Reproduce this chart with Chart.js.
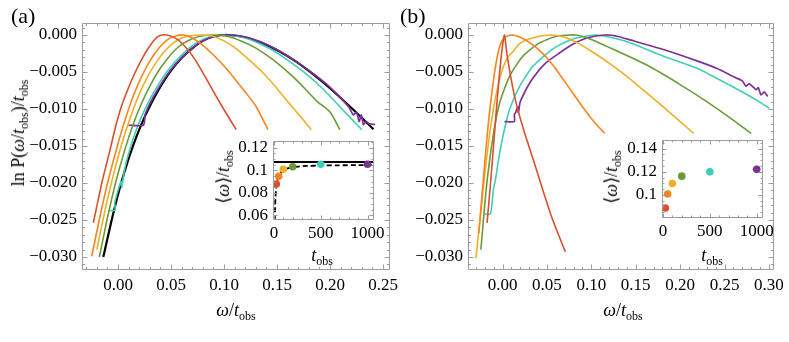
<!DOCTYPE html>
<html><head><meta charset="utf-8">
<script src="https://cdn.jsdelivr.net/npm/chart.js@4.4.1/dist/chart.umd.min.js"></script>
<style>
html,body{margin:0;padding:0;background:#fff;}
#wrap{position:relative;width:789px;height:342px;overflow:hidden;font-family:"Liberation Serif","Times New Roman",serif;color:#000;}
canvas{position:absolute;}
.lbl{position:absolute;white-space:nowrap;font-size:18px;line-height:1;transform:translate(-50%,-50%);}
.rot{transform:translate(-50%,-50%) rotate(-90deg);}
.lbl i{font-style:italic;}
.lbl sub{font-size:12px;vertical-align:baseline;position:relative;top:4px;}
.pl{position:absolute;font-size:22px;line-height:1;}
</style></head><body><div id="wrap">
<canvas id="cA"></canvas><canvas id="cB"></canvas><canvas id="cIA"></canvas><canvas id="cIB"></canvas>
<div class="pl" style="left:11px;top:5px">(a)</div>
<div class="pl" style="left:400px;top:5px">(b)</div>
<div class="lbl rot" style="left:18px;top:133px">ln P(<i>ω</i>/<i>t</i><sub>obs</sub>)/<i>t</i><sub>obs</sub></div>
<div class="lbl" style="left:236px;top:310px"><i>ω</i>/<i>t</i><sub>obs</sub></div>
<div class="lbl" style="left:623px;top:310px"><i>ω</i>/<i>t</i><sub>obs</sub></div>
<div class="lbl rot" style="left:223px;top:177px">⟨<i>ω</i>⟩/<i>t</i><sub>obs</sub></div>
<div class="lbl" style="left:322px;top:255px"><i>t</i><sub>obs</sub></div>
<div class="lbl rot" style="left:611px;top:177px">⟨<i>ω</i>⟩/<i>t</i><sub>obs</sub></div>
<div class="lbl" style="left:712px;top:255px"><i>t</i><sub>obs</sub></div>
</div>
<script>
// ---------- tick labels ----------
const aXTicks=[0,0.05,0.10,0.15,0.20,0.25];
const aXTickLabels=["0.00","0.05","0.10","0.15","0.20","0.25"];
const bXTicks=[0,0.05,0.10,0.15,0.20,0.25,0.30];
const bXTickLabels=["0.00","0.05","0.10","0.15","0.20","0.25","0.30"];
const mainYTicks=[0,-0.005,-0.010,-0.015,-0.020,-0.025,-0.030];
const mainYTickLabels=["0.000","\u22120.005","\u22120.010","\u22120.015","\u22120.020","\u22120.025","\u22120.030"];
const insetXTicks=[0,500,1000];
const insetXTickLabels=["0","500","1000"];
const insetAYTicks=[0.06,0.08,0.10,0.12];
const insetAYTickLabels=["0.06","0.08","0.1","0.12"];
const insetBYTicks=[0.10,0.12,0.14];
const insetBYTickLabels=["0.1","0.12","0.14"];

// ---------- panel (a) curves ----------
const aRedX=[-0.0233,-0.0150,-0.0080,-0.0020,0.0040,0.0100,0.0160,0.0220,0.0280,0.0340,0.0390,0.0460,0.0550,0.0640,0.0730,0.0820,0.0910,0.1000,0.1115];
const aRedY=[-0.0254,-0.0198,-0.0158,-0.0122,-0.0093,-0.0071,-0.0051,-0.0034,-0.0019,-0.0007,-0.0001,0.0000,-0.0005,-0.0017,-0.0034,-0.0056,-0.0079,-0.0101,-0.0128];
const aOrangeX=[-0.0248,-0.0170,-0.0090,-0.0010,0.0070,0.0150,0.0230,0.0310,0.0390,0.0470,0.0550,0.0620,0.0700,0.0800,0.0900,0.1000,0.1100,0.1200,0.1300,0.1415];
const aOrangeY=[-0.0299,-0.0245,-0.0195,-0.0152,-0.0113,-0.0080,-0.0054,-0.0033,-0.0017,-0.0006,-0.0001,0.0000,-0.0004,-0.0014,-0.0027,-0.0042,-0.0059,-0.0077,-0.0096,-0.0128];
const aYellowX=[-0.0200,-0.0120,-0.0040,0.0040,0.0120,0.0200,0.0280,0.0360,0.0440,0.0520,0.0600,0.0680,0.0780,0.0880,0.1000,0.1120,0.1240,0.1360,0.1480,0.1600,0.1720,0.1824];
const aYellowY=[-0.0290,-0.0235,-0.0187,-0.0145,-0.0110,-0.0080,-0.0056,-0.0037,-0.0022,-0.0011,-0.0004,-0.0001,0.0000,-0.0001,-0.0008,-0.0019,-0.0034,-0.0050,-0.0069,-0.0090,-0.0110,-0.0128];
const aGreenX=[-0.0176,-0.0100,-0.0020,0.0060,0.0140,0.0220,0.0300,0.0380,0.0460,0.0540,0.0620,0.0700,0.0800,0.0920,0.1040,0.1160,0.1280,0.1400,0.1520,0.1640,0.1760,0.1880,0.2000,0.2094];
const aGreenY=[-0.0300,-0.0247,-0.0198,-0.0157,-0.0122,-0.0093,-0.0069,-0.0049,-0.0033,-0.0020,-0.0011,-0.0005,-0.0001,0.0000,-0.0002,-0.0008,-0.0016,-0.0027,-0.0040,-0.0055,-0.0072,-0.0090,-0.0104,-0.0128];
const aTealX=[-0.0090,-0.0030,-0.0030,0.0010,0.0030,0.0035,0.0060,0.0100,0.0160,0.0220,0.0300,0.0380,0.0460,0.0560,0.0660,0.0760,0.0860,0.1000,0.1140,0.1280,0.1440,0.1600,0.1760,0.1920,0.2060,0.2180,0.2300];
const aTealY=[-0.0237,-0.0237,-0.0226,-0.0205,-0.0198,-0.0206,-0.0183,-0.0160,-0.0133,-0.0111,-0.0087,-0.0067,-0.0050,-0.0033,-0.0019,-0.0009,-0.0003,0.0000,-0.0002,-0.0008,-0.0019,-0.0034,-0.0051,-0.0071,-0.0092,-0.0110,-0.0128];
const aPurpleX=[0.0097,0.0239,0.0255,0.0286,0.0340,0.0420,0.0500,0.0600,0.0700,0.0800,0.0900,0.1030,0.1180,0.1340,0.1500,0.1660,0.1820,0.1980,0.2100,0.2180,0.2220,0.2250,0.2275,0.2295,0.2315,0.2340,0.2370,0.2425];
const aPurpleY=[-0.0122,-0.0122,-0.0108,-0.0097,-0.0082,-0.0063,-0.0047,-0.0031,-0.0018,-0.0008,-0.0002,0.0000,-0.0002,-0.0009,-0.0020,-0.0034,-0.0050,-0.0068,-0.0085,-0.0098,-0.0108,-0.0104,-0.0117,-0.0108,-0.0121,-0.0117,-0.0120,-0.0121];
const aBlackX=[-0.0139,-0.0060,0.0020,0.0100,0.0180,0.0260,0.0340,0.0420,0.0500,0.0600,0.0700,0.0800,0.0900,0.1040,0.1200,0.1360,0.1520,0.1680,0.1840,0.2000,0.2160,0.2300,0.2410];
const aBlackY=[-0.0300,-0.0250,-0.0205,-0.0167,-0.0135,-0.0108,-0.0085,-0.0065,-0.0048,-0.0031,-0.0018,-0.0008,-0.0002,0.0000,-0.0003,-0.0011,-0.0022,-0.0036,-0.0053,-0.0072,-0.0093,-0.0112,-0.01275];

// ---------- panel (b) curves ----------
const bRedX=[-0.0174,-0.0135,-0.0095,-0.0055,-0.0020,0.0005,0.0022,0.0050,0.0090,0.0130,0.0170,0.0250,0.0350,0.0450,0.0550,0.0630,0.0707];
const bRedY=[-0.0254,-0.0200,-0.0140,-0.0080,-0.0035,-0.0010,0.0000,-0.0026,-0.0055,-0.0080,-0.0100,-0.0133,-0.0170,-0.0208,-0.0245,-0.0270,-0.0293];
const bOrangeX=[-0.0267,-0.0230,-0.0190,-0.0150,-0.0110,-0.0070,-0.0030,0.0010,0.0060,0.0115,0.0200,0.0300,0.0400,0.0500,0.0600,0.0700,0.0800,0.0900,0.1000,0.1080,0.1152];
const bOrangeY=[-0.0268,-0.0215,-0.0158,-0.0108,-0.0068,-0.0036,-0.0015,-0.0005,-0.0001,0.0000,-0.0003,-0.0010,-0.0019,-0.0031,-0.0046,-0.0063,-0.0080,-0.0097,-0.0113,-0.0124,-0.0133];
const bYellowX=[-0.0300,-0.0250,-0.0200,-0.0150,-0.0100,-0.0050,0.0000,0.0060,0.0120,0.0189,0.0260,0.0337,0.0450,0.0560,0.0700,0.0850,0.1000,0.1200,0.1400,0.1600,0.1800,0.2000,0.2152];
const bYellowY=[-0.0302,-0.0245,-0.0188,-0.0138,-0.0098,-0.0068,-0.0046,-0.0030,-0.0022,-0.0012,-0.0007,-0.0004,-0.0001,0.0000,-0.0003,-0.0011,-0.0022,-0.0038,-0.0056,-0.0076,-0.0096,-0.0117,-0.0133];
const bGreenX=[-0.0244,-0.0181,-0.0107,-0.0033,0.0078,0.0226,0.0411,0.0600,0.0820,0.1000,0.1260,0.1630,0.2000,0.2300,0.2597,0.2800];
const bGreenY=[-0.0290,-0.0205,-0.0137,-0.0092,-0.0056,-0.0029,-0.0011,-0.0002,0.0000,-0.0006,-0.0020,-0.0041,-0.0067,-0.0090,-0.0115,-0.0133];
const bTealX=[-0.0200,-0.0137,-0.0107,-0.0095,-0.0085,-0.0060,-0.0033,0.0020,0.0078,0.0189,0.0337,0.0520,0.0633,0.0800,0.1040,0.1250,0.1450,0.1820,0.2190,0.2560,0.2890,0.3004];
const bTealY=[-0.0242,-0.0242,-0.0214,-0.0203,-0.0199,-0.0180,-0.0160,-0.0128,-0.0101,-0.0070,-0.0043,-0.0023,-0.0014,-0.0005,0.0000,-0.0004,-0.0011,-0.0029,-0.0045,-0.0068,-0.0090,-0.0099];
const bPurpleX=[0.0022,0.0133,0.0133,0.0150,0.0170,0.0178,0.0195,0.0207,0.0263,0.0337,0.0485,0.0633,0.0800,0.0950,0.1150,0.1300,0.1450,0.1820,0.2190,0.2410,0.2630,0.2700,0.2740,0.2780,0.2856,0.2880,0.2910,0.2948,0.2985];
const bPurpleY=[-0.0117,-0.0117,-0.0108,-0.0104,-0.0097,-0.0105,-0.0092,-0.0088,-0.0074,-0.0059,-0.0038,-0.0025,-0.0012,-0.0004,0.0000,-0.0002,-0.0007,-0.0020,-0.0035,-0.0045,-0.0058,-0.0062,-0.0069,-0.0066,-0.0074,-0.0071,-0.0081,-0.0077,-0.0083];

// ---------- insets ----------
const tObs=[25,50,100,200,500,1000];
const meanA=[0.0878,0.0947,0.1008,0.1031,0.1053,0.1053];
const meanB=[0.0887,0.1007,0.1099,0.1162,0.1199,0.1221];
const theoryT=[-50,1200];
const theoryMeanA=[0.1073,0.1073];
const dashT=[9,11,13,16,20,25,32,40,50,65,80,100,130,170,200,260,350,500,700,900,1100];
const dashMean=[0.0555,0.0640,0.0700,0.0760,0.0815,0.0860,0.0895,0.0920,0.0945,0.0968,0.0983,0.0998,0.1012,0.1022,0.1027,0.1033,0.1038,0.1042,0.1044,0.1045,0.1046];

// ---------- styles ----------
const FONT='"Liberation Serif","Times New Roman",serif';
const C={red:'#D9512C',orange:'#F8841E',yellow:'#EDB02A',green:'#6C9B36',teal:'#3ECFB6',purple:'#7B3196',black:'#000000'};
const dotColors=[C.red,C.orange,C.yellow,C.green,C.teal,C.purple];

function pts(xs,ys){return xs.map((x,i)=>({x:x,y:ys[i]}));}
function line(xs,ys,color,w,order,extra){return Object.assign({data:pts(xs,ys),showLine:true,borderColor:color,backgroundColor:color,borderWidth:w,pointRadius:0,tension:0.2,order:order},extra||{});}

function minorVals(min,max,step){const out=[];const s=Math.ceil(min/step-1e-9),e=Math.floor(max/step+1e-9);for(let k=s;k<=e;k++)out.push(k*step);return out;}

const framePlugin={id:'frame',
  beforeDatasetsDraw(chart,args,o){
    if(o.bg){const a=chart.chartArea,c=chart.ctx;c.save();c.fillStyle='#fff';c.fillRect(a.left,a.top,a.right-a.left,a.bottom-a.top);c.restore();}
  },
  afterDatasetsDraw(chart,args,o){
    const c=chart.ctx,a=chart.chartArea,sx=chart.scales.x,sy=chart.scales.y;
    c.save();c.strokeStyle=o.color;c.lineWidth=1;c.beginPath();
    const L=Math.round(a.left)+0.5,R=Math.round(a.right)-0.5,T=Math.round(a.top)+0.5,B=Math.round(a.bottom)-0.5;
    c.rect(L,T,R-L,B-T);
    const xt=(v,len)=>{const p=Math.round(sx.getPixelForValue(v))+0.5;if(p<L||p>R)return;c.moveTo(p,B);c.lineTo(p,B-len);c.moveTo(p,T);c.lineTo(p,T+len);};
    const yt=(v,len)=>{const p=Math.round(sy.getPixelForValue(v))+0.5;if(p<T||p>B)return;c.moveTo(L,p);c.lineTo(L+len,p);c.moveTo(R,p);c.lineTo(R-len,p);};
    minorVals(sx.min,sx.max,o.xStep).forEach(v=>xt(v,o.minor));
    o.xMajor.forEach(v=>xt(v,o.major));
    minorVals(sy.min,sy.max,o.yStep).forEach(v=>yt(v,o.minor));
    o.yMajor.forEach(v=>yt(v,o.major));
    c.stroke();c.restore();
  }};

function mkScale(pos,min,max,ticks,labels,pad,size){
  return {type:'linear',position:pos,min:min,max:max,
    grid:{display:false,drawTicks:false},border:{display:false},
    ticks:{color:'#000',font:{family:FONT,size:17},padding:pad,autoSkip:false,maxRotation:0,minRotation:0,
      callback:function(v){for(let i=0;i<ticks.length;i++){if(Math.abs(ticks[i]-v)<1e-9)return labels[i];}return '';}},
    afterBuildTicks:function(s){s.ticks=ticks.map(v=>({value:v}));},
    afterFit:function(s){if(pos==='bottom')s.height=size;else s.width=size;}
  };
}

function mkChart(id,reg,area,xr,yr,datasets,frame){
  const cv=document.getElementById(id);
  cv.width=reg.w;cv.height=reg.h;
  cv.style.left=reg.l+'px';cv.style.top=reg.t+'px';cv.style.width=reg.w+'px';cv.style.height=reg.h+'px';
  return new Chart(cv,{type:'scatter',data:{datasets:datasets},
    options:{responsive:false,animation:false,devicePixelRatio:1,
      layout:{autoPadding:false,padding:{left:0,top:area.t-reg.t,right:reg.l+reg.w-area.r,bottom:0}},
      scales:{
        x:mkScale('bottom',xr.min,xr.max,xr.ticks,xr.labels,xr.pad,reg.t+reg.h-area.b),
        y:mkScale('left',yr.min,yr.max,yr.ticks,yr.labels,yr.pad,area.l-reg.l)},
      plugins:{legend:{display:false},tooltip:{enabled:false},frame:frame}},
    plugins:[framePlugin]});
}

Chart.defaults.font.family=FONT;

mkChart('cA',{l:0,t:0,w:430,h:342},{l:82,t:23,r:390,b:270},
  {min:-0.034,max:0.2566,ticks:aXTicks,labels:aXTickLabels,pad:5},
  {min:-0.03176,max:0.00162,ticks:mainYTicks,labels:mainYTickLabels,pad:5},
  [line(aRedX,aRedY,C.red,1.6,1),line(aOrangeX,aOrangeY,C.orange,1.6,2),line(aYellowX,aYellowY,C.yellow,1.6,3),
   line(aGreenX,aGreenY,C.green,1.6,4),line(aPurpleX,aPurpleY,C.purple,1.7,5),line(aTealX,aTealY,C.teal,1.6,6),
   line(aBlackX,aBlackY,C.black,2.2,7)],
  {color:'#9c9c9c',xMajor:aXTicks,xStep:0.01,yMajor:mainYTicks,yStep:0.001,major:5,minor:2.5,bg:false});

mkChart('cB',{l:400,t:0,w:389,h:342},{l:468,t:23,r:778,b:270},
  {min:-0.0389,max:0.3056,ticks:bXTicks,labels:bXTickLabels,pad:5},
  {min:-0.03176,max:0.00162,ticks:mainYTicks,labels:mainYTickLabels,pad:5},
  [line(bRedX,bRedY,C.red,1.6,1),line(bOrangeX,bOrangeY,C.orange,1.6,2),line(bYellowX,bYellowY,C.yellow,1.6,3),
   line(bGreenX,bGreenY,C.green,1.6,4),line(bPurpleX,bPurpleY,C.purple,1.7,5),line(bTealX,bTealY,C.teal,1.6,6)],
  {color:'#9c9c9c',xMajor:bXTicks,xStep:0.01,yMajor:mainYTicks,yStep:0.001,major:5,minor:2.5,bg:false});

mkChart('cIA',{l:226,t:126,w:172,h:120},{l:273,t:136,r:374,b:220},
  {min:-10.7,max:1069.5,ticks:insetXTicks,labels:insetXTickLabels,pad:3},
  {min:0.0558,max:0.1258,ticks:insetAYTicks,labels:insetAYTickLabels,pad:5},
  [{data:pts(tObs,meanA),pointRadius:3.8,pointBackgroundColor:dotColors,pointBorderWidth:0,showLine:false,order:1},
   line(dashT,dashMean,C.black,1.8,2,{borderDash:[5,3],tension:0.1}),
   line(theoryT,theoryMeanA,C.black,2,3,{tension:0})],
  {color:'#9c9c9c',xMajor:insetXTicks,xStep:100,yMajor:insetAYTicks,yStep:0.005,major:4,minor:2,bg:true});

mkChart('cIB',{l:614,t:125,w:175,h:120},{l:662,t:135,r:763,b:218},
  {min:-10.7,max:1067,ticks:insetXTicks,labels:insetXTickLabels,pad:3},
  {min:0.080,max:0.1473,ticks:insetBYTicks,labels:insetBYTickLabels,pad:5},
  [{data:pts(tObs,meanB),pointRadius:3.8,pointBackgroundColor:dotColors,pointBorderWidth:0,showLine:false,order:1}],
  {color:'#9c9c9c',xMajor:insetXTicks,xStep:100,yMajor:insetBYTicks,yStep:0.005,major:4,minor:2,bg:true});
</script>
</body></html>
